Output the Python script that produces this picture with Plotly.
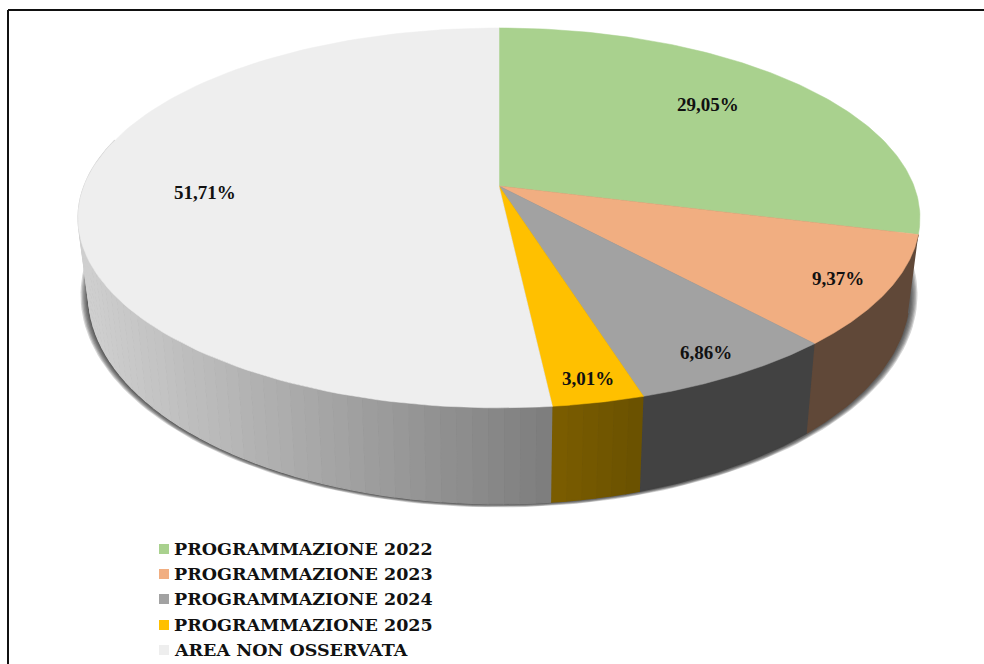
import numpy as np
import plotly.graph_objects as go

categories = ["PROGRAMMAZIONE 2022", "PROGRAMMAZIONE 2023", "PROGRAMMAZIONE 2024", "PROGRAMMAZIONE 2025", "AREA NON OSSERVATA"]
values = [29.05, 9.37, 6.86, 3.01, 51.71]
value_labels = ["29,05%", "9,37%", "6,86%", "3,01%", "51,71%"]

top_colors = ["#A9D18E", "#F1AE81", "#A2A2A2", "#FFC000", "#EEEEEE"]
wall_colors = [None, "#604838", "#424242", "#765900", None]

# pixel layout of the tilted disc
CX, CY = 499, 186
RX, RY = 415, 184.6
PERSP = 0.168
LABEL_POS = [(708, 104), (838, 278), (706, 352), (588, 378), (205, 192)]
LEGEND_Y = [549, 574, 599, 625, 650]


def top_edge(theta):
    w = 1 + PERSP * np.cos(theta)
    return CX + RX * np.sin(theta) / w, CY - RY * np.cos(theta) / w


def bottom_edge(theta, grow=0.0, drop=0.0):
    x, y = top_edge(theta)
    return CX + (0.975 + grow) * (x - CX), 504 + drop + (1.1 + grow) * (y - 408)


def mix(c1, c2, t):
    return "rgb(%d,%d,%d)" % tuple(a + (b - a) * t for a, b in zip(c1, c2))


def poly(x, y, color, name=None, opacity=1.0, width=1.2):
    return go.Scatter(x=x, y=y, mode="lines", fill="toself", fillcolor=color, opacity=opacity,
                      line=dict(color=color, width=width), name=name, showlegend=False, hoverinfo="skip")


fig = go.Figure()

edges = np.cumsum([0] + values) / 100 * 2 * np.pi

# soft shadow under the disc, built up from a few wider outlines
ring = np.linspace(0, 2 * np.pi, 241)
for grow, drop in [(0.019, 3.5), (0.016, 3), (0.013, 2.5), (0.010, 2), (0.007, 1.5), (0.004, 1)]:
    sx, sy = bottom_edge(ring, grow, drop)
    fig.add_trace(poly(sx, sy, "#262626", opacity=0.2, width=0))

# side wall, flat colours except for the gradients on the yellow and the big slice
for i in range(1, 5):
    start, end = edges[i], min(edges[i + 1], np.radians(285))
    steps = {3: 6, 4: 60}.get(i, 1)
    cuts = np.linspace(start, end, steps + 1)
    for a, b in zip(cuts[:-1], cuts[1:]):
        arc = np.linspace(a, b, 30 if steps == 1 else 6)
        tx, ty = top_edge(arc)
        bx, by = bottom_edge(arc)
        if i == 4:
            t = np.clip((550 - tx.mean()) / 460, 0, 1)
            color = mix((126, 126, 126), (207, 207, 207), t)
        elif i == 3:
            t = (640 - tx.mean()) / 90
            color = mix((107, 82, 0), (124, 94, 0), t)
        else:
            color = wall_colors[i]
        fig.add_trace(poly(np.r_[tx, bx[::-1]], np.r_[ty, by[::-1]], color))

# top face
for i, cat in enumerate(categories):
    arc = np.linspace(edges[i], edges[i + 1], 120)
    x, y = top_edge(arc)
    fig.add_trace(poly(np.r_[CX, x, CX], np.r_[CY, y, CY], top_colors[i], name=cat, width=0.5))

for text, (x, y) in zip(value_labels, LABEL_POS):
    fig.add_annotation(x=x, y=y, text="<b>%s</b>" % text, showarrow=False,
                       font=dict(family="Liberation Serif", size=19, color="#111111"))

# legend
for cat, color, y in zip(categories, top_colors, LEGEND_Y):
    fig.add_trace(go.Scatter(x=[164], y=[y], mode="markers", showlegend=False, hoverinfo="skip",
                             marker=dict(symbol="square", size=10, color=color)))
    fig.add_annotation(x=172, y=y, text="<b>%s</b>" % cat, showarrow=False, xanchor="left",
                       font=dict(family="DejaVu Serif", size=17.5, color="#111111"))

# frame: only the left and top lines show in the crop
fig.add_shape(type="line", x0=8, y0=664, x1=8, y1=10, line=dict(color="#111111", width=2))
fig.add_shape(type="line", x0=8, y0=10, x1=984, y1=10, line=dict(color="#111111", width=2))

fig.update_layout(
    width=984,
    height=664,
    margin=dict(l=0, r=0, t=0, b=0),
    paper_bgcolor="white",
    plot_bgcolor="white",
    xaxis=dict(range=[0, 984], visible=False, fixedrange=True),
    yaxis=dict(range=[664, 0], visible=False, fixedrange=True),
)

# body margin would push the fixed-size plot off the window
fig.write_html("out.html", config={"displayModeBar": False},
               post_script="document.body.style.margin='0';document.body.style.overflow='hidden';")
